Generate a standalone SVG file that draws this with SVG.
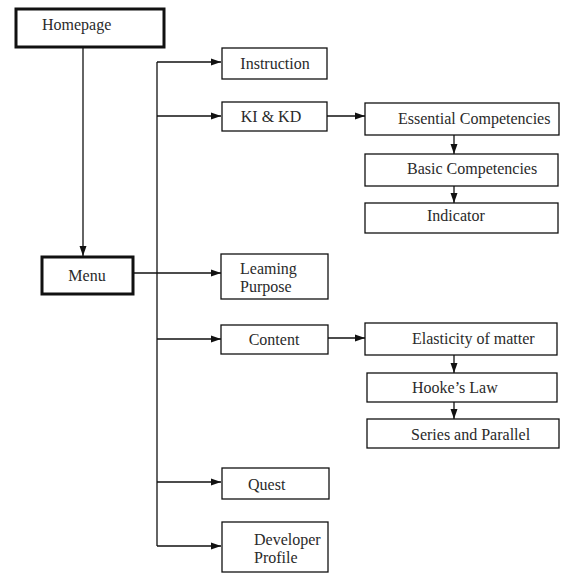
<svg xmlns="http://www.w3.org/2000/svg" width="562" height="573" viewBox="0 0 562 573">
<style>
.b{fill:#fff;stroke:#111;stroke-width:1.3}
.t{fill:#fff;stroke:#111;stroke-width:3}
text{font-family:"Liberation Serif","Times New Roman",serif;font-size:16px;fill:#2a2a2a}
.c{stroke:#111;stroke-width:1.3;fill:none}
</style>
<defs>
<marker id="a" markerUnits="userSpaceOnUse" markerWidth="10" markerHeight="10" viewBox="0 0 10 10" refX="10" refY="5" orient="auto">
<path d="M0,1.5L10,5L0,8.5z" fill="#111"/>
</marker>
</defs>
<rect width="562" height="573" fill="#fff"/>
<g id="connectors">
<line class="c" x1="83" y1="47" x2="83" y2="256" marker-end="url(#a)"/>
<line class="c" x1="157" y1="62" x2="157" y2="546"/>
<line class="c" x1="157" y1="62" x2="221" y2="62" marker-end="url(#a)"/>
<line class="c" x1="157" y1="116" x2="221" y2="116" marker-end="url(#a)"/>
<line class="c" x1="133" y1="273" x2="221" y2="273" marker-end="url(#a)"/>
<line class="c" x1="157" y1="339" x2="221" y2="339" marker-end="url(#a)"/>
<line class="c" x1="157" y1="482" x2="221" y2="482" marker-end="url(#a)"/>
<line class="c" x1="157" y1="546" x2="221" y2="546" marker-end="url(#a)"/>
<line class="c" x1="327" y1="116" x2="365" y2="116" marker-end="url(#a)"/>
<line class="c" x1="454" y1="135" x2="454" y2="154" marker-end="url(#a)"/>
<line class="c" x1="454" y1="186" x2="454" y2="203" marker-end="url(#a)"/>
<line class="c" x1="328" y1="338" x2="365" y2="338" marker-end="url(#a)"/>
<line class="c" x1="454" y1="355" x2="454" y2="373" marker-end="url(#a)"/>
<line class="c" x1="454" y1="402" x2="454" y2="419" marker-end="url(#a)"/>
</g>
<g id="homepage"><rect class="t" x="16" y="9" width="148" height="38"/><text x="42" y="30">Homepage</text></g>
<g id="menu"><rect class="t" x="42" y="257" width="91" height="37"/><text x="87" y="281" text-anchor="middle">Menu</text></g>
<g id="instruction"><rect class="b" x="222" y="48" width="105" height="31"/><text x="275" y="69" text-anchor="middle">Instruction</text></g>
<g id="kikd"><rect class="b" x="222" y="102" width="105" height="29"/><text x="271" y="122" text-anchor="middle">KI &amp; KD</text></g>
<g id="essential"><rect class="b" x="365" y="103" width="194" height="32"/><text x="398" y="124">Essential Competencies</text></g>
<g id="basic"><rect class="b" x="365" y="154" width="193" height="32"/><text x="407" y="174">Basic Competencies</text></g>
<g id="indicator"><rect class="b" x="365" y="203" width="193" height="30"/><text x="427" y="221">Indicator</text></g>
<g id="learning"><rect class="b" x="221" y="254" width="107" height="45"/><text x="240" y="274">Leaming</text><text x="240" y="292">Purpose</text></g>
<g id="content"><rect class="b" x="221" y="325" width="107" height="29"/><text x="274" y="345" text-anchor="middle">Content</text></g>
<g id="elasticity"><rect class="b" x="365" y="323" width="192" height="32"/><text x="412" y="344">Elasticity of matter</text></g>
<g id="hooke"><rect class="b" x="367" y="373" width="190" height="29"/><text x="412" y="393">Hooke’s Law</text></g>
<g id="series"><rect class="b" x="367" y="419" width="192" height="29"/><text x="411" y="440">Series and Parallel</text></g>
<g id="quest"><rect class="b" x="222" y="468" width="107" height="31"/><text x="248" y="490">Quest</text></g>
<g id="developer"><rect class="b" x="222" y="522" width="106" height="50"/><text x="254" y="545">Developer</text><text x="254" y="563">Profile</text></g>
</svg>
